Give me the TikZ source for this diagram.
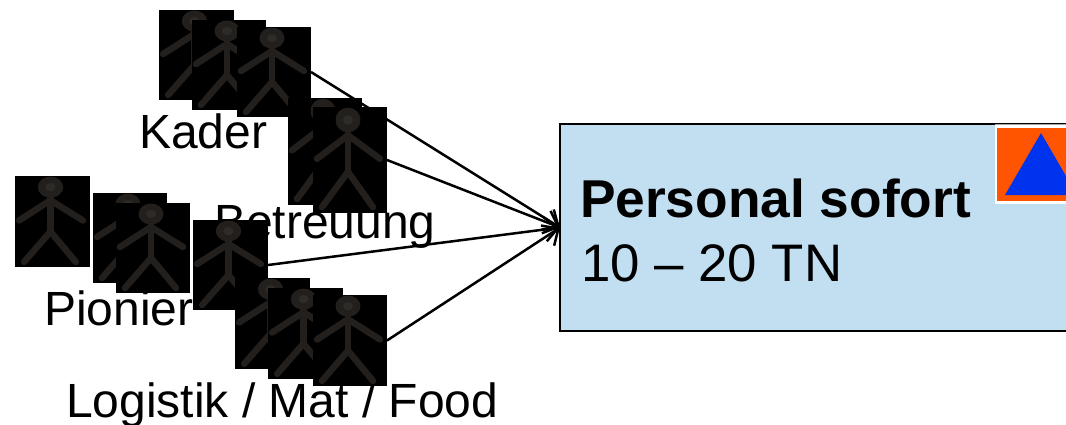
\documentclass[tikz,border=0pt]{standalone}
\usepackage{fontspec}
\setmainfont{Liberation Sans}
\usetikzlibrary{arrows.meta,backgrounds}
\definecolor{figcol}{HTML}{231F1C}
\definecolor{headmid}{HTML}{2E2C29}
\definecolor{panelblue}{HTML}{C2DFF2}
\definecolor{signorange}{HTML}{FF5500}
\definecolor{signblue}{HTML}{0033EE}
\tikzset{
  personbox/.style={draw=none,fill=black,inner sep=0pt,outer sep=0pt,anchor=north west},
  limb/.style={draw=figcol,line width=6.5pt,line cap=round,line join=round},
  label/.style={anchor=base west,inner sep=0pt,outer sep=0pt,font=\fontsize{48}{52}\selectfont},
  boldlabel/.style={label,font=\fontsize{53.3}{56}\selectfont\bfseries},
  biglabel/.style={label,font=\fontsize{52.8}{56}\selectfont},
  link/.style={draw=black,line width=2.5pt,-{Straight Barb[length=13pt,width=24pt,line width=2.5pt]}},
  panelbox/.style={draw=black,line width=1.4pt,fill=panelblue,inner sep=0pt,outer sep=0pt,anchor=north west,minimum width=560pt,minimum height=207pt},
}
\newcommand{\stick}[5]{%
  \node[personbox,minimum width=#4pt,minimum height=#5pt] (#1) at (#2,#3) {};
  \begin{scope}[shift={(#2,#3)},xscale=#4/74,yscale=#5/90]
    \path[limb] (4,44) -- (35,24) -- (67,44);
    \path[limb] (35,15) -- (35,55);
    \path[limb] (9,85) -- (35,55) -- (60,85);
    \fill[figcol] (35,11) ellipse (12.5 and 10.5);
    \fill[headmid] (35,11) ellipse (5 and 4);
  \end{scope}}
\begin{document}
\begin{tikzpicture}[x=1pt,y=-1pt]
\clip (0,0) rectangle (1066,424);
\useasboundingbox (0,0) rectangle (1066,424);

\stick{kadera}{159}{10}{75}{90}
\stick{kaderb}{192}{20}{74}{90}
\stick{kaderc}{237}{27}{74}{90}
\stick{betra}{288}{98}{74}{107}
\stick{betrb}{313}{107}{74}{106}
\stick{piona}{15}{176}{75}{91}
\stick{pionb}{93}{193}{74}{90}
\stick{pionc}{116}{203}{74}{90}
\stick{piond}{193}{220}{75}{90}
\stick{logia}{235}{278}{75}{91}
\stick{logib}{268}{288}{75}{91}
\stick{logic}{313}{295}{74}{91}

\begin{pgfonlayer}{background}
  \node[label] (tkader) at (139,148) {Kader};
  \node[label] (tbetr) at (214,238) {Betreuung};
  \node[label] (tpion) at (44,325) {Pionier};
  \node[label] (tlogi) at (66,417) {Logistik / Mat / Food};
\end{pgfonlayer}

\node[panelbox] (panel) at (560,124) {};
\draw[draw=gray!70,line width=1pt] (995,124) -- (1066,124);
\node[boldlabel] (thead) at (580,217) {Personal sofort};
\node[biglabel] (tsub) at (581,281) {10 – 20 TN};

\fill[white] (995,125) rectangle (1066,204);
\fill[signorange] (997,128) rectangle (1066,201);
\fill[signblue] (1041,133) -- (1005,195) -- (1077,195) -- cycle;

\begin{pgfonlayer}{background}
  \draw[link] (kaderc.east) -- (panel.west);
  \draw[link] (betrb.east) -- (panel.west);
  \draw[link] (piond.east) -- (panel.west);
  \draw[link] (logic.east) -- (panel.west);
\end{pgfonlayer}
\end{tikzpicture}
\end{document}
